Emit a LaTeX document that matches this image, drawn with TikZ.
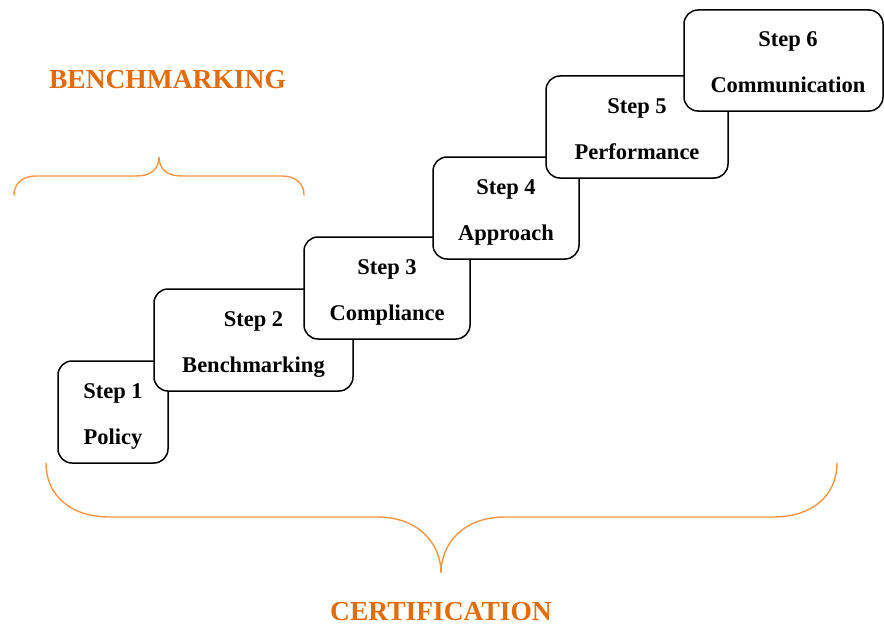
\documentclass[tikz,border=0pt]{standalone}
\usepackage{fontspec}
\setmainfont{Liberation Serif}
\definecolor{ortext}{HTML}{E36C0A}
\definecolor{orbrace}{HTML}{F79646}
\newcommand{\twolines}[2]{\raisebox{-2.5pt}{\begin{tabular}{@{}c@{}}#1\\#2\end{tabular}}}
\begin{document}
\begin{tikzpicture}[x=1pt,y=-1pt,
  stepbox/.style={draw=black, line width=1.5pt, fill=white, rounded corners=14pt,
    inner sep=0pt, font=\fontsize{22.5}{46}\selectfont\bfseries},
  bracestyle/.style={draw=orbrace, line width=1.4pt, line cap=round},
  biglabel/.style={text=ortext, inner sep=0pt, font=\fontsize{27.5}{30}\selectfont\bfseries}]
\useasboundingbox (0,0) rectangle (884,626);
% braces
\coordinate (tbl) at (14,195);
\coordinate (tbr) at (304,195);
\coordinate (tbt) at (159,157);
\draw[bracestyle] (tbl) .. controls (14,184) and (22,176) .. (36,176)
  -- (136,176) .. controls (150,176) and (159,170) .. (tbt)
  .. controls (159,170) and (168,176) .. (182,176)
  -- (282,176) .. controls (296,176) and (304,184) .. (tbr);
\coordinate (bbl) at (46,463);
\coordinate (bbr) at (837,463);
\coordinate (bbt) at (441,573);
\draw[bracestyle] (bbl) .. controls (46,495) and (70,517) .. (110,517)
  -- (377,517) .. controls (420,517) and (441,545) .. (bbt)
  .. controls (441,545) and (462,517) .. (505,517)
  -- (773,517) .. controls (813,517) and (837,495) .. (bbr);
\node[biglabel] (bench) at (167.5,80) {BENCHMARKING};
\node[biglabel] (cert) at (441,612) {CERTIFICATION};
% steps
\node[stepbox, minimum width=110pt, minimum height=102pt] (s1) at (113,412) {\twolines{Step 1}{Policy}};
\node[stepbox, minimum width=199pt, minimum height=102pt] (s2) at (253.5,340) {\twolines{Step 2}{Benchmarking}};
\node[stepbox, minimum width=166pt, minimum height=102pt] (s3) at (387,288) {\twolines{Step 3}{Compliance}};
\node[stepbox, minimum width=146pt, minimum height=102pt] (s4) at (506,208) {\twolines{Step 4}{Approach}};
\node[stepbox, minimum width=182pt, minimum height=102pt] (s5) at (637,127) {\twolines{Step 5}{Performance}};
\node[stepbox, minimum width=199pt, minimum height=101pt] (s6) at (783.5,60.5) {\hspace*{9pt}\twolines{Step 6}{Communication}};
\end{tikzpicture}
\end{document}
